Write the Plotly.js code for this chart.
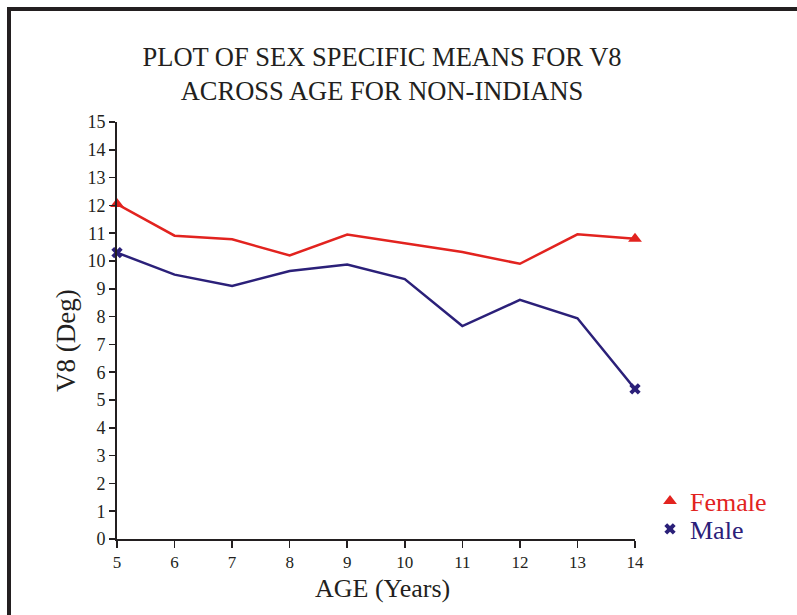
<!DOCTYPE html>
<html>
<head>
<meta charset="utf-8">
<script src="https://cdn.plot.ly/plotly-3.0.1.min.js"></script>
<style>
  html, body { margin: 0; padding: 0; background: #ffffff; }
  #chart { width: 797px; height: 615px; }
</style>
</head>
<body>
<div id="chart"></div>
<script>
// ---- data ----
const ages = [5, 6, 7, 8, 9, 10, 11, 12, 13, 14];
const femaleMeans = [12.05, 10.91, 10.78, 10.2, 10.95, 10.64, 10.32, 9.9, 10.96, 10.8];
const maleMeans = [10.3, 9.51, 9.1, 9.64, 9.87, 9.35, 7.66, 8.6, 7.94, 5.4];
const yTickVals = [0, 1, 2, 3, 4, 5, 6, 7, 8, 9, 10, 11, 12, 13, 14, 15];

const RED = '#e2231f';
const NAVY = '#2b2079';
const INK = '#231f20';
const SERIF = '"Liberation Serif", "Times New Roman", serif';

function ends(arr) { return [arr[0], arr[arr.length - 1]]; }

const L = 117, R = 635, T = 122, B = 539;
const px = v => (v - L) / (R - L);
const py = v => (B - v) / (B - T);

const traces = [
  { x: ages, y: femaleMeans, type: 'scatter', mode: 'lines', showlegend: false,
    line: { color: RED, width: 2.5 } },
  { x: ages, y: maleMeans, type: 'scatter', mode: 'lines', showlegend: false,
    line: { color: NAVY, width: 2.5 } },
  { x: ends(ages), y: ends(femaleMeans), type: 'scatter', mode: 'markers',
    name: '<span style="color:' + RED + '">Female</span>', legend: 'legend',
    marker: { symbol: 'triangle-up', size: 12, color: RED }, cliponaxis: false },
  { x: ends(ages), y: ends(maleMeans), type: 'scatter', mode: 'markers',
    name: '<span style="color:' + NAVY + '">Male</span>', legend: 'legend2',
    marker: { symbol: 'x', size: 10, color: NAVY }, cliponaxis: false }
];

const legendBase = {
  x: px(650), xanchor: 'left', yanchor: 'middle',
  bgcolor: 'rgba(0,0,0,0)', borderwidth: 0,
  font: { family: SERIF, size: 26 }, itemwidth: 30
};

const layout = {
  width: 797, height: 615,
  margin: { l: L, r: 797 - R, t: T, b: 615 - B },
  paper_bgcolor: '#ffffff', plot_bgcolor: '#ffffff',
  font: { family: SERIF, color: INK },
  title: {
    text: 'PLOT OF SEX SPECIFIC MEANS FOR V8<br>ACROSS AGE FOR NON-INDIANS',
    font: { family: SERIF, size: 26.5, color: INK },
    xref: 'paper', x: px(382), xanchor: 'center',
    yref: 'container', y: 1 - 66 / 615, yanchor: 'top'
  },
  xaxis: {
    range: [5, 14], tickvals: ages, ticktext: ages.map(String),
    showgrid: false, zeroline: false, showline: true, linecolor: INK, linewidth: 2,
    ticks: 'outside', ticklen: 7, tickwidth: 1.5, tickcolor: INK,
    tickfont: { family: SERIF, size: 17, color: INK }
  },
  yaxis: {
    range: [0, 15], tickvals: yTickVals, ticktext: yTickVals.map(String),
    showgrid: false, zeroline: false, showline: true, linecolor: INK, linewidth: 2,
    ticks: 'outside', ticklen: 6, tickwidth: 1.5, tickcolor: INK,
    tickfont: { family: SERIF, size: 18, color: INK }
  },
  annotations: [
    { text: 'AGE (Years)', xref: 'paper', yref: 'paper', x: px(382), y: py(588),
      xanchor: 'center', yanchor: 'middle', showarrow: false,
      font: { family: SERIF, size: 26, color: INK } },
    { text: 'V8 (Deg)', xref: 'paper', yref: 'paper', x: px(66), y: py(341),
      xanchor: 'center', yanchor: 'middle', showarrow: false, textangle: -90,
      font: { family: SERIF, size: 27, color: INK } }
  ],
  legend: Object.assign({}, legendBase, { y: py(501) }),
  legend2: Object.assign({}, legendBase, { y: py(529) }),
  shapes: [{
    type: 'rect', xref: 'paper', yref: 'paper', layer: 'above',
    x0: px(9), x1: px(900),
    y0: py(700), y1: py(9),
    line: { color: INK, width: 4 }, fillcolor: 'rgba(0,0,0,0)'
  }],
  showlegend: true
};

Plotly.newPlot('chart', traces, layout, { displayModeBar: false, staticPlot: true });
</script>
</body>
</html>
